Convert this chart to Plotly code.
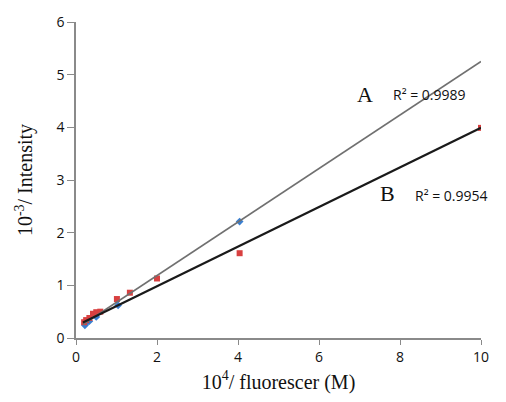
import numpy as np
import plotly.graph_objects as go

# Series A (blue diamonds)
xa = [0.22, 0.25, 0.33, 0.5, 1.04, 4.04]
ya = [0.24, 0.28, 0.32, 0.40, 0.62, 2.21]
# Series B (red squares)
xb = [0.2, 0.25, 0.33, 0.42, 0.5, 0.6, 1.01, 1.33, 2.0, 4.04, 10.0]
yb = [0.30, 0.34, 0.38, 0.46, 0.49, 0.50, 0.74, 0.86, 1.13, 1.61, 3.99]

# linear trendlines: slope, intercept, start x, end x
trend_a = [0.508, 0.17, 0.17, 10.0]
trend_b = [0.376, 0.23, 0.17, 10.0]

x_ticks = [0, 2, 4, 6, 8, 10]
y_ticks = [0, 1, 2, 3, 4, 5, 6]

def line(t):
    xs = np.array([t[2], t[3]])
    return xs, t[0] * xs + t[1]

fig = go.Figure()
lxa, lya = line(trend_a)
lxb, lyb = line(trend_b)
fig.add_trace(go.Scatter(x=xa, y=ya, mode="markers",
                         marker=dict(symbol="diamond", size=6, color="#3a7fd0"), showlegend=False))
fig.add_trace(go.Scatter(x=xb, y=yb, mode="markers",
                         marker=dict(symbol="square", size=6, color="#d84040"), showlegend=False))
fig.add_trace(go.Scatter(x=lxa, y=lya, mode="lines", line=dict(color="#707070", width=1.5), showlegend=False))
fig.add_trace(go.Scatter(x=lxb, y=lyb, mode="lines", line=dict(color="#1a1a1a", width=2.2), showlegend=False))

serif = "Liberation Serif, DejaVu Serif, serif"
sans = "Open Sans, Liberation Sans, sans-serif"

fig.update_layout(
    width=506, height=402,
    margin=dict(l=76, r=25, t=19, b=64),
    plot_bgcolor="white", paper_bgcolor="white",
    xaxis=dict(range=[0, 10], tickvals=x_ticks, showgrid=False, zeroline=False,
               showline=True, linecolor="#8a8a8a", linewidth=1.5,
               ticks="outside", ticklen=5, tickcolor="#8a8a8a",
               tickfont=dict(family=sans, size=14, color="#111"),
               title=dict(text="10<sup>4</sup>/ fluorescer (M)", font=dict(family=serif, size=20, color="#111"), standoff=10)),
    yaxis=dict(range=[0, 6], tickvals=y_ticks, showgrid=False, zeroline=False,
               showline=True, linecolor="#8a8a8a", linewidth=1.5,
               ticks="outside", ticklen=7, tickcolor="#8a8a8a",
               tickfont=dict(family=sans, size=14, color="#111"),
               title=dict(text="10<sup>-3</sup>/ Intensity", font=dict(family=serif, size=20, color="#111"), standoff=18)),
    annotations=[
        dict(x=7.14, y=4.62, xref="x", yref="y", text="A", showarrow=False,
             font=dict(family=serif, size=22, color="#111")),
        dict(x=8.74, y=4.62, xref="x", yref="y", text="R² = 0.9989", showarrow=False,
             font=dict(family=sans, size=14, color="#111")),
        dict(x=7.70, y=2.74, xref="x", yref="y", text="B", showarrow=False,
             font=dict(family=serif, size=22, color="#111")),
        dict(x=9.26, y=2.71, xref="x", yref="y", text="R² = 0.9954", showarrow=False,
             font=dict(family=sans, size=14, color="#111")),
    ],
)
fig.write_html("out.html")
